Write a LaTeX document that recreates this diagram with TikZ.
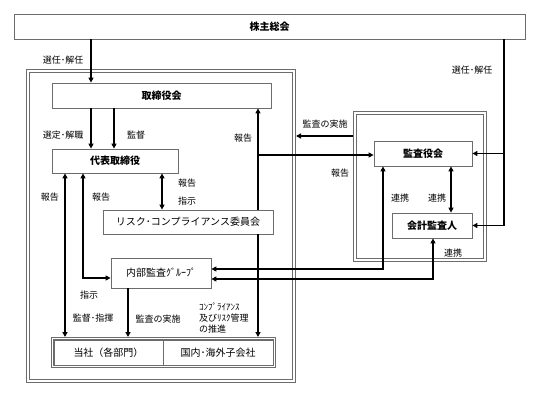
\documentclass[tikz,border=0pt]{standalone}
\usepackage{fontspec}
\setmainfont{Noto Sans CJK JP}
\usetikzlibrary{arrows.meta}

\tikzset{
  box/.style={draw=gray!85!black, line width=0.8pt, fill=white, inner sep=0pt, font=\fontsize{10}{12}\selectfont},
  boldbox/.style={box, font=\fontsize{10}{12}\selectfont\bfseries},
  dblframe/.style={draw=gray!85!black, line width=0.8pt, double=white, double distance=2.4pt, inner sep=0pt, outer sep=2pt},
  lbl/.style={font=\fontsize{9}{10}\selectfont, inner sep=0pt},
  arr/.style={line width=1.5pt, -{Triangle[length=5pt,width=5pt]}},
  arrs/.style={line width=1.5pt, {Triangle[length=5pt,width=5pt]}-{Triangle[length=5pt,width=5pt]}},
}

\begin{document}
\begin{tikzpicture}[x=1pt,y=-1pt]
  \useasboundingbox (0,0) rectangle (539,399);

  % frames
  \node[dblframe, minimum width=266pt, minimum height=310pt] (mainframe) at (161,226) {};
  \node[dblframe, minimum width=130pt, minimum height=147pt] (auditframe) at (420,186.5) {};
  \node[dblframe, double distance=1.4pt, outer sep=1.5pt, minimum width=222pt, minimum height=28pt] (bottomframe) at (163.5,352.5) {};

  % boxes
  \node[boldbox, minimum width=511pt, minimum height=25pt] (soukai) at (269.5,26.5) {株主総会};
  \node[boldbox, minimum width=219pt, minimum height=25pt] (torishimari) at (161.5,95.5) {取締役会};
  \node[boldbox, minimum width=126pt, minimum height=24pt] (daihyo) at (115,161) {代表取締役};
  \node[box, minimum width=170pt, minimum height=24pt] (risk) at (188,222) {リスク･コンプライアンス委員会};
  \node[box, minimum width=100pt, minimum height=30pt] (naibu) at (161,273) {内部監査ｸﾞﾙｰﾌﾟ};
  \node[boldbox, minimum width=98pt, minimum height=25pt] (kansayaku) at (423,153.5) {監査役会};
  \node[boldbox, minimum width=80pt, minimum height=25pt] (kaikei) at (432,225.5) {会計監査人};
  \node[box, minimum width=109pt, minimum height=25pt] (tousha) at (108.5,352.5) {当社（各部門）};
  \node[box, minimum width=110pt, minimum height=25pt] (kokunai) at (218,352.5) {国内･海外子会社};

  % columns of the connectors
  \coordinate (cA) at (91,0);
  \coordinate (cB) at (114,0);
  \coordinate (cD) at (65,0);
  \coordinate (cE) at (83,278);
  \coordinate (cF) at (162,0);
  \coordinate (cG) at (128,0);
  \coordinate (cH) at (258,155);
  \coordinate (cI) at (451,0);
  \coordinate (cJ) at (504,0);
  \coordinate (cK) at (383,269);
  \coordinate (cL) at (433,279);
  \coordinate (cM) at (0,136);

  % connectors
  \draw[arr] (soukai.south -| cA) -- (torishimari.north -| cA);
  \draw[arr] (torishimari.south -| cA) -- (daihyo.north -| cA);
  \draw[arr] (torishimari.south -| cB) -- (daihyo.north -| cB);
  \draw[arrs] (daihyo.south -| cD) -- (bottomframe.north -| cD);
  \draw[arrs] (daihyo.south -| cE) |- (naibu.west |- cE);
  \draw[arrs] (daihyo.south -| cF) -- (risk.north -| cF);
  \draw[arr] (naibu.south -| cG) -- (bottomframe.north -| cG);
  \draw[arr] (risk.north -| cH) -- (torishimari.south -| cH);
  \draw[arr] (risk.south -| cH) -- (bottomframe.north -| cH);
  \draw[arr] (cH) -- (kansayaku.west |- cH);
  \draw[arrs] (naibu.east |- cK) -| (kansayaku.south -| cK);
  \draw[arrs] (naibu.east |- cL) -| (kaikei.south -| cL);
  \draw[arrs] (kansayaku.south -| cI) -- (kaikei.north -| cI);
  \draw[arr] (soukai.south -| cJ) |- (kaikei.east);
  \draw[arr] (kansayaku.east -| cJ) -- (kansayaku.east);
  \draw[arr] (auditframe.west |- cM) -- (mainframe.east |- cM);

  % labels
  \node[lbl] (l1) at (63,60) {選任･解任};
  \node[lbl] (l2) at (472,70) {選任･解任};
  \node[lbl] (l3) at (63,135) {選定･解職};
  \node[lbl] (l4) at (136,135) {監督};
  \node[lbl] (l5) at (243,138) {報告};
  \node[lbl] (l6) at (325,124) {監査の実施};
  \node[lbl] (l7) at (340,173) {報告};
  \node[lbl] (l8) at (50,197) {報告};
  \node[lbl] (l9) at (101,197) {報告};
  \node[lbl] (l10) at (187,183) {報告};
  \node[lbl] (l11) at (187,201) {指示};
  \node[lbl] (l12) at (400,198) {連携};
  \node[lbl] (l13) at (437,198) {連携};
  \node[lbl] (l14) at (453,253) {連携};
  \node[lbl] (l15) at (89,295) {指示};
  \node[lbl] (l16) at (93,318) {監督･指揮};
  \node[lbl] (l17) at (158,319) {監査の実施};
  \node[lbl, anchor=west, align=left, font=\fontsize{9}{11}\selectfont] (l18) at (199,318) {ｺﾝﾌﾟﾗｲｱﾝｽ\\及びﾘｽｸ管理\\の推進};
\end{tikzpicture}
\end{document}
